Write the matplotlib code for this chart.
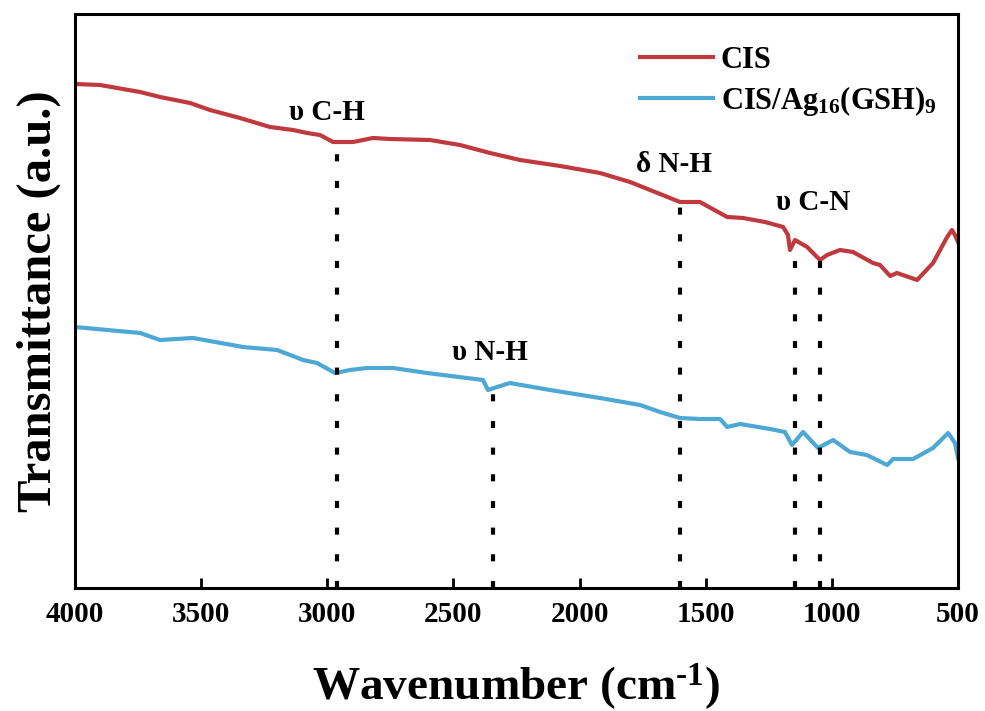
import numpy as np
import matplotlib
matplotlib.use('Agg')
from matplotlib import pyplot as plt

plt.rcParams['font.family'] = ['Liberation Serif', 'DejaVu Serif']
plt.rcParams['font.weight'] = 'bold'
plt.rcParams['mathtext.fontset'] = 'custom'
plt.rcParams['mathtext.rm'] = 'Liberation Serif:bold'
plt.rcParams['mathtext.bf'] = 'Liberation Serif:bold'
plt.rcParams['mathtext.it'] = 'Liberation Serif:bold:italic'
plt.rcParams['mathtext.default'] = 'bf'

# FTIR spectra (wavenumber cm-1, arbitrary transmittance)
cis_wn = [4000, 3901, 3742, 3663, 3544, 3465, 3346, 3227, 3136, 3080, 3029, 2977,
          2898, 2819, 2751, 2593, 2474, 2355, 2236, 2077, 1919, 1800, 1681, 1602,
          1523, 1415, 1352, 1265, 1193, 1174, 1166, 1146, 1098, 1047, 1019, 968,
          916, 837, 809, 769, 742, 662, 599, 543, 524, 512, 500]
cis_t = [504, 503, 496, 491, 485, 478, 470, 461, 458, 455, 453, 446,
         446, 450, 449, 448, 443, 435, 428, 422, 415, 406, 394, 386,
         386, 371, 370, 366, 361, 353, 338, 348, 341, 328, 333, 338,
         336, 325, 323, 312, 315, 308, 325, 351, 358, 353, 346]

ag_wn = [4000, 3742, 3663, 3532, 3334, 3199, 3096, 3041, 2969, 2910, 2842, 2739,
         2605, 2383, 2363, 2327, 2276, 2117, 1919, 1760, 1681, 1602, 1523, 1443,
         1415, 1364, 1245, 1186, 1158, 1114, 1055, 995, 928, 861, 781, 757, 678,
         599, 539, 512, 500]
ag_t = [261, 255, 248, 250, 241, 238, 228, 225, 215, 218, 220, 220,
        215, 208, 198, 201, 205, 198, 190, 183, 176, 170, 169, 169,
        161, 164, 159, 156, 143, 156, 140, 148, 136, 133, 123, 129, 129,
        140, 155, 145, 130]

# marker lines: position and top of dotted line
peak_wn = [2960, 2345, 1600, 1146, 1047]
peak_top = [443, 200, 388, 343, 338]

labels = ['\u03c5 C-H', '\u03c5 N-H', '\u03b4 N-H', '\u03c5 C-N']
label_wn = [3001, 2355, 1626, 1075]
label_t = [476, 235, 423, 385]

fig = plt.figure(figsize=(9.85, 7.11), dpi=100)
ax = fig.add_axes([75 / 985, 123 / 711, 883 / 985, 574 / 711])

ax.plot(cis_wn, cis_t, color='#C0393F', lw=3, label='CIS')
ax.plot(ag_wn, ag_t, color='#4DA8D6', lw=3, label='CIS/Ag$_{16}$(GSH)$_{9}$')

for wn, top in zip(peak_wn, peak_top):
    ax.plot([wn, wn], [0, top], color='black', lw=3, linestyle=(0, (1.7, 4.7)))

for txt, wn, t in zip(labels, label_wn, label_t):
    ax.text(wn, t, txt, ha='center', va='center', fontsize=21, fontweight='bold')

ax.set_xlim(4000, 500)
ax.set_ylim(0, 574)
ax.set_xticks([4000, 3500, 3000, 2500, 2000, 1500, 1000, 500])
ax.set_yticks([])
ax.tick_params(axis='x', direction='in', length=7, width=2, labelsize=21, pad=9)
for lab in ax.get_xticklabels():
    lab.set_fontweight('bold')
for sp in ax.spines.values():
    sp.set_linewidth(2.2)

ax.set_xlabel(r'Wavenumber (cm$^{\text{-1}}$)', fontsize=34, fontweight='bold', labelpad=24)
ax.set_ylabel('Transmittance (a.u.)', fontsize=35, fontweight='bold', labelpad=10)

ax.legend(loc='upper left', bbox_to_anchor=(640 / 985, 1 - 46 / 711),
          bbox_transform=fig.transFigure, frameon=False, fontsize=22,
          handlelength=2.4, handletextpad=0.25, borderpad=0, borderaxespad=0,
          labelspacing=0.3)

fig.savefig('out.png', dpi=100)
